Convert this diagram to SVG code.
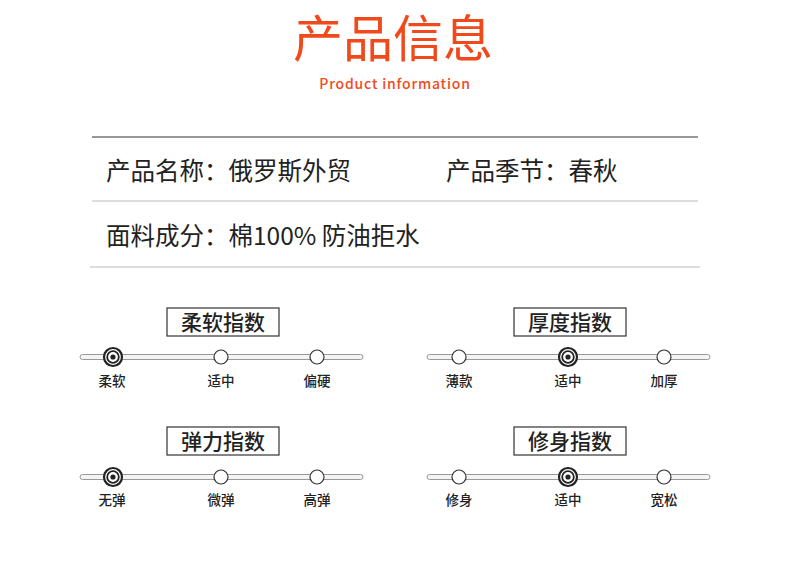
<svg xmlns="http://www.w3.org/2000/svg" width="790" height="577" viewBox="0 0 790 577">
<defs>
<style>
text{font-family:"Noto Sans CJK SC","Noto Sans",sans-serif;fill:#222}
.bar{fill:#f4f4f4;stroke:#999;stroke-width:1}
.dot{fill:#fff;stroke:#333;stroke-width:1.2}
.box{fill:#fff;stroke:#333;stroke-width:1.2}
.lab{font-size:13.5px;text-anchor:middle;font-weight:500}
.ttl{font-size:21px;text-anchor:middle;font-weight:500}
.info{font-size:24.5px}
</style>
<g id="sel"><circle r="9" fill="#fff" stroke="#222" stroke-width="2.2"/><circle r="5.8" fill="#fff" stroke="#222" stroke-width="1.8"/><circle r="2.6" fill="#222"/></g>
</defs>
<rect width="790" height="577" fill="#fff"/>
<g id="header">
<text x="393" y="57" font-size="50" text-anchor="middle" style="fill:#f04a1c">产品信息</text>
<text x="395" y="89" font-size="14" text-anchor="middle" letter-spacing="0.8" font-weight="500" style="fill:#f04a1c">Product information</text>
<line x1="92" y1="137" x2="698" y2="137" stroke="#333" stroke-width="1.2"/>
<text class="info" x="106" y="180">产品名称：俄罗斯外贸</text>
<text class="info" x="446" y="180">产品季节：春秋</text>
<line x1="92" y1="201" x2="698" y2="201" stroke="#bbb"/>
<text class="info" x="106" y="245">面料成分：棉100% 防油拒水</text>
<line x1="90" y1="267" x2="700" y2="267" stroke="#bbb"/>
</g>
<g id="soft">
<rect class="box" x="167" y="308" width="112" height="28"/><text class="ttl" x="223" y="330">柔软指数</text>
<rect class="bar" x="80" y="354.5" width="283" height="5" rx="2.5"/>
<use href="#sel" x="113" y="357"/><circle class="dot" cx="221" cy="357" r="7"/><circle class="dot" cx="317" cy="357" r="7"/>
<text class="lab" x="112" y="386">柔软</text><text class="lab" x="221" y="386">适中</text><text class="lab" x="317" y="386">偏硬</text>
</g>
<g id="thick">
<rect class="box" x="514" y="308" width="112" height="28"/><text class="ttl" x="570" y="330">厚度指数</text>
<rect class="bar" x="427" y="354.5" width="283" height="5" rx="2.5"/>
<circle class="dot" cx="459" cy="357" r="7"/><use href="#sel" x="568" y="357"/><circle class="dot" cx="664" cy="357" r="7"/>
<text class="lab" x="459" y="386">薄款</text><text class="lab" x="568" y="386">适中</text><text class="lab" x="664" y="386">加厚</text>
</g>
<g id="elastic">
<rect class="box" x="167" y="427" width="112" height="28"/><text class="ttl" x="223" y="449">弹力指数</text>
<rect class="bar" x="80" y="474.5" width="283" height="5" rx="2.5"/>
<use href="#sel" x="113" y="477"/><circle class="dot" cx="221" cy="477" r="7"/><circle class="dot" cx="317" cy="477" r="7"/>
<text class="lab" x="112" y="505">无弹</text><text class="lab" x="221" y="505">微弹</text><text class="lab" x="317" y="505">高弹</text>
</g>
<g id="fit">
<rect class="box" x="514" y="427" width="112" height="28"/><text class="ttl" x="570" y="449">修身指数</text>
<rect class="bar" x="427" y="474.5" width="283" height="5" rx="2.5"/>
<circle class="dot" cx="459" cy="477" r="7"/><use href="#sel" x="568" y="477"/><circle class="dot" cx="664" cy="477" r="7"/>
<text class="lab" x="459" y="505">修身</text><text class="lab" x="568" y="505">适中</text><text class="lab" x="664" y="505">宽松</text>
</g>
<g id="connectors"/>
</svg>
